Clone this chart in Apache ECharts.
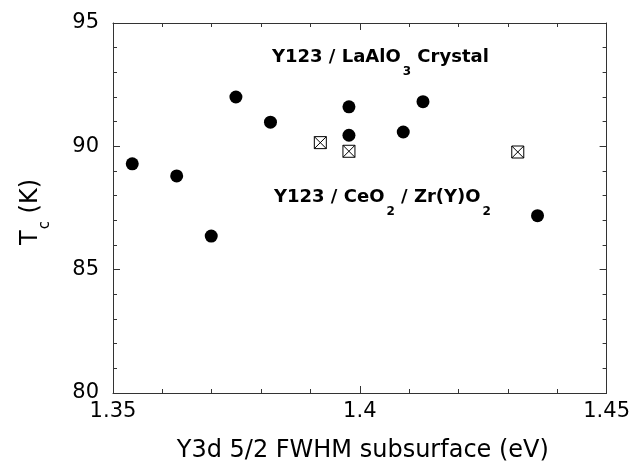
<!DOCTYPE html>
<html>
<head>
<meta charset="utf-8">
<script src="https://cdn.jsdelivr.net/npm/echarts@6/dist/echarts.min.js"></script>
<style>
html,body{margin:0;padding:0;background:#fff;}
#chart{width:633px;height:468px;}
</style>
</head>
<body>
<div id="chart"></div>
<script>
// Data
const laAlO3X = [1.3539, 1.3629, 1.3699, 1.3749, 1.3819, 1.3978, 1.3978, 1.4088, 1.4128, 1.4360];
const laAlO3Tc = [89.29, 88.80, 86.36, 92.00, 90.98, 91.60, 90.45, 90.58, 91.81, 87.19];
const ceO2X = [1.3920, 1.3978, 1.4320];
const ceO2Tc = [90.15, 89.80, 89.77];
const xTicks = [1.35, 1.40, 1.45];
const xTickLabels = ['1.35', '1.4', '1.45'];
const yTicks = [80, 85, 90, 95];

const FONT = '"DejaVu Sans", sans-serif';
const AXCOL = '#333';

function pairs(xs, ys) { return xs.map((x, i) => [x, ys[i]]); }

const chart = echarts.init(document.getElementById('chart'), null, {renderer: 'canvas'});

const xBase = {
  type: 'value', min: xTicks[0], max: xTicks[xTicks.length - 1], interval: 0.05,
  axisLine: {show: true, onZero: false, lineStyle: {color: AXCOL, width: 1}},
  axisTick: {show: true, inside: true, length: 7, lineStyle: {color: AXCOL}},
  minorTick: {show: true, splitNumber: 5, length: 4, lineStyle: {color: AXCOL}},
  splitLine: {show: false}, minorSplitLine: {show: false}
};
const yBase = {
  type: 'value', min: yTicks[0], max: yTicks[yTicks.length - 1], interval: 5,
  axisLine: {show: true, onZero: false, lineStyle: {color: AXCOL, width: 1}},
  axisTick: {show: true, inside: true, length: 7, lineStyle: {color: AXCOL}},
  minorTick: {show: true, splitNumber: 5, length: 4, lineStyle: {color: AXCOL}},
  splitLine: {show: false}, minorSplitLine: {show: false}
};

const option = {
  backgroundColor: '#fff',
  animation: false,
  grid: {left: 113, top: 23, right: 24, bottom: 72, containLabel: false},
  xAxis: [
    Object.assign({}, xBase, {
      position: 'bottom',
      name: 'Y3d 5/2 FWHM subsurface (eV)',
      nameLocation: 'middle', nameGap: 46,
      nameTextStyle: {fontFamily: FONT, fontSize: 24, color: '#000', padding: [0, 0, 0, 6]},
      axisLabel: {
        show: true, margin: 8, fontFamily: FONT, fontSize: 21, color: '#000',
        formatter: v => { const i = xTicks.findIndex(t => Math.abs(t - v) < 1e-9); return i >= 0 ? xTickLabels[i] : ''; }
      }
    }),
    Object.assign({}, xBase, {position: 'top', axisLabel: {show: false}})
  ],
  yAxis: [
    Object.assign({}, yBase, {
      position: 'left',
      name: '{t|T}{s|c}{t| (K)}',
      nameLocation: 'middle', nameGap: 70, nameRotate: 90,
      nameTextStyle: {
        fontFamily: FONT, fontSize: 24, color: '#000', padding: [0, 8, 0, 0],
        rich: {
          t: {fontFamily: FONT, fontSize: 24, lineHeight: 24, verticalAlign: 'top', color: '#000'},
          s: {fontFamily: FONT, fontSize: 15, lineHeight: 15, verticalAlign: 'top', padding: [19, 0, 0, 1], color: '#000'}
        }
      },
      axisLabel: {show: true, margin: 14, fontFamily: FONT, fontSize: 21, color: '#000'}
    }),
    Object.assign({}, yBase, {position: 'right', axisLabel: {show: false}})
  ],
  series: [
    {
      name: 'Y123 / LaAlO3 Crystal', type: 'scatter', xAxisIndex: 0, yAxisIndex: 0,
      symbol: 'circle', symbolSize: 13,
      itemStyle: {color: '#000', opacity: 1},
      data: pairs(laAlO3X, laAlO3Tc)
    },
    {
      name: 'Y123 / CeO2 / Zr(Y)O2', type: 'scatter', xAxisIndex: 0, yAxisIndex: 0,
      symbol: 'path://M0,0L10,0L10,10L0,10Z M0,0L10,10 M10,0L0,10', symbolSize: 12,
      itemStyle: {color: '#fff', borderColor: '#000', borderWidth: 1, opacity: 1},
      data: pairs(ceO2X, ceO2Tc)
    }
  ],
  graphic: [
    {
      type: 'text', left: 272, top: 48, silent: true,
      style: {
        text: '{m|Y123 / LaAlO}{s|3}{m| Crystal}',
        rich: {
          m: {fontFamily: FONT, fontWeight: 'bold', fontSize: 18, lineHeight: 22, verticalAlign: 'top', fill: '#000'},
          s: {fontFamily: FONT, fontWeight: 'bold', fontSize: 12, lineHeight: 12, verticalAlign: 'top', padding: [18, 0, 0, 2], fill: '#000'}
        }
      }
    },
    {
      type: 'text', left: 274, top: 188, silent: true,
      style: {
        text: '{m|Y123 / CeO}{s|2}{m| / Zr(Y)O}{s|2}',
        rich: {
          m: {fontFamily: FONT, fontWeight: 'bold', fontSize: 18, lineHeight: 22, verticalAlign: 'top', fill: '#000'},
          s: {fontFamily: FONT, fontWeight: 'bold', fontSize: 12, lineHeight: 12, verticalAlign: 'top', padding: [18, 0, 0, 2], fill: '#000'}
        }
      }
    }
  ]
};
chart.setOption(option);
</script>
</body>
</html>
